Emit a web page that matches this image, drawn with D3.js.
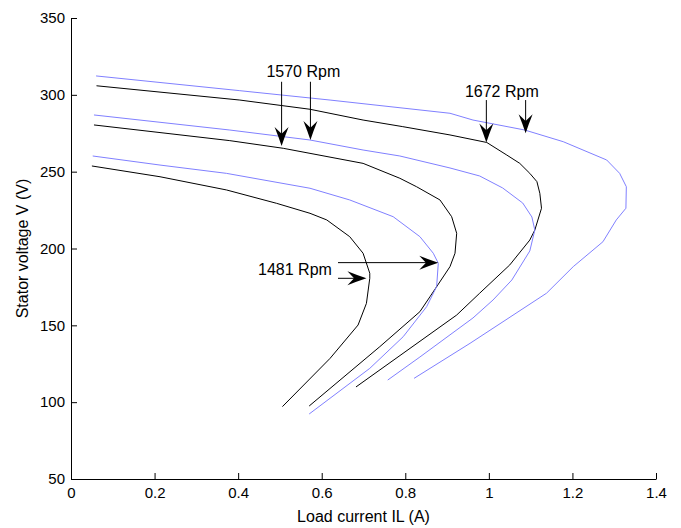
<!DOCTYPE html>
<html>
<head>
<meta charset="utf-8">
<script src="https://cdn.jsdelivr.net/npm/d3@7/dist/d3.min.js"></script>
<style>
  body { margin: 0; background: #fff; }
  svg { display: block; font-family: "Liberation Sans", Arial, sans-serif; }
  .axis path, .axis line { stroke: #000; }
  .axis text { font-size: 15px; fill: #000; }
</style>
</head>
<body>
<svg id="canvas" width="681" height="528"></svg>
<script>
"use strict";

// tick labels
const xTicks = [0, 0.2, 0.4, 0.6, 0.8, 1, 1.2, 1.4];
const yTicks = [50, 100, 150, 200, 250, 300, 350];

// black curves (load current, stator voltage)
const curBlack1481 = [0.05, 0.213, 0.372, 0.492, 0.572, 0.612, 0.667, 0.699, 0.715, 0.715, 0.707, 0.687, 0.62, 0.506];
const voltBlack1481 = [253.7, 246.7, 238.1, 229.4, 222.9, 218.6, 207.7, 196.9, 183.9, 180.6, 164.3, 150.2, 128.5, 97.1];

const curBlack1570 = [0.055, 0.38, 0.508, 0.699, 0.787, 0.827, 0.883, 0.911, 0.923, 0.919, 0.907, 0.859, 0.835, 0.739, 0.57];
const voltBlack1570 = [280.4, 270.2, 265.2, 255.4, 245.7, 240.2, 231.6, 220.7, 209.9, 196.9, 188.2, 168.6, 158.9, 136.1, 97.5];

const curBlack1672 = [0.061, 0.404, 0.572, 0.699, 0.794, 0.907, 0.995, 1.043, 1.074, 1.098, 1.115, 1.122, 1.126, 1.11, 1.098, 1.05, 0.978, 0.923, 0.682];
const voltBlack1672 = [305.9, 296.6, 290.6, 283.6, 279.3, 273.9, 269.0, 260.8, 255.4, 248.9, 243.5, 235.9, 226.2, 212.0, 205.5, 189.3, 170.9, 156.7, 109.9];

// blue curves
const curBlue1481 = [0.052, 0.213, 0.372, 0.572, 0.667, 0.771, 0.835, 0.867, 0.879, 0.875, 0.851, 0.795, 0.715, 0.57];
const voltBlue1481 = [260.2, 254.3, 248.9, 239.2, 231.6, 220.7, 207.7, 196.9, 190.4, 175.2, 162.1, 142.6, 122.0, 92.3];

const curBlue1570 = [0.055, 0.38, 0.572, 0.699, 0.787, 0.907, 0.978, 1.033, 1.081, 1.103, 1.11, 1.098, 1.055, 1.01, 0.962, 0.835, 0.758];
const voltBlue1570 = [286.9, 277.1, 270.6, 264.1, 260.2, 252.4, 247.2, 239.4, 229.6, 220.5, 212.0, 198.4, 179.5, 166.5, 154.8, 129.4, 114.4];

const curBlue1672 = [0.06, 0.404, 0.62, 0.907, 0.962, 1.086, 1.178, 1.282, 1.313, 1.329, 1.328, 1.305, 1.273, 1.202, 1.138, 0.955, 0.821];
const voltBlue1672 = [312.3, 302.7, 296.6, 288.0, 283.6, 277.1, 269.5, 257.6, 248.9, 240.2, 226.2, 218.6, 204.4, 188.2, 170.9, 138.3, 115.5];

// annotation labels and arrows (data units)
const labelText = ["1570 Rpm", "1672 Rpm", "1481 Rpm"];
const labelX = [0.556, 1.031, 0.536];
const labelY = [311.8, 298.8, 182.8];
const arrowFrom = [[0.504, 308.5], [0.573, 308.5], [0.994, 296.6], [1.088, 296.6], [0.639, 190.8], [0.639, 180.6]];
const arrowTo = [[0.504, 266.7], [0.573, 270.6], [0.994, 268.9], [1.088, 275.0], [0.879, 190.8], [0.707, 180.6]];

const series = [
  { x: curBlack1481, y: voltBlack1481, color: "#000" },
  { x: curBlack1570, y: voltBlack1570, color: "#000" },
  { x: curBlack1672, y: voltBlack1672, color: "#000" },
  { x: curBlue1481, y: voltBlue1481, color: "#8080ff" },
  { x: curBlue1570, y: voltBlue1570, color: "#8080ff" },
  { x: curBlue1672, y: voltBlue1672, color: "#8080ff" }
];

const margin = { left: 71, right: 25, top: 18, bottom: 49 };
const width = 681, height = 528;

const xScale = d3.scaleLinear().domain([0, 1.4]).range([margin.left, width - margin.right]);
const yScale = d3.scaleLinear().domain([50, 350]).range([height - margin.bottom, margin.top]);

const svg = d3.select("#canvas");

svg.append("g")
  .attr("class", "axis")
  .attr("transform", `translate(0,${height - margin.bottom})`)
  .call(d3.axisBottom(xScale).tickValues(xTicks).tickFormat(d => String(d))
    .tickSizeInner(-6).tickSizeOuter(0).tickPadding(8));

svg.append("g")
  .attr("class", "axis")
  .attr("transform", `translate(${margin.left},0)`)
  .call(d3.axisLeft(yScale).tickValues(yTicks).tickFormat(d => String(d))
    .tickSizeInner(-6).tickSizeOuter(0).tickPadding(6));

const line = d3.line().x(d => xScale(d[0])).y(d => yScale(d[1]));

svg.append("g")
  .selectAll("path")
  .data(series)
  .enter()
  .append("path")
  .attr("d", s => line(s.x.map((v, i) => [v, s.y[i]])))
  .attr("fill", "none")
  .attr("stroke", s => s.color)
  .attr("stroke-width", 1);

// arrows
const headLen = 19, headW = 14;
const arrows = arrowFrom.map((f, i) => ({ from: f, to: arrowTo[i] }));
const ag = svg.append("g");
arrows.forEach(a => {
  const x1 = xScale(a.from[0]), y1 = yScale(a.from[1]);
  const x2 = xScale(a.to[0]), y2 = yScale(a.to[1]);
  const ang = Math.atan2(y2 - y1, x2 - x1) * 180 / Math.PI;
  const len = Math.hypot(x2 - x1, y2 - y1);
  const g = ag.append("g").attr("transform", `translate(${x1},${y1}) rotate(${ang})`);
  g.append("line")
    .attr("x1", 0).attr("y1", 0)
    .attr("x2", len - headLen * 0.6).attr("y2", 0)
    .attr("stroke", "#000").attr("stroke-width", 1);
  const L = headLen, W = headW / 2;
  g.append("path")
    .attr("transform", `translate(${len},0)`)
    .attr("d", `M0,0 Q${-L * 0.5},${-W * 0.45} ${-L},${-W} L${-L * 0.65},0 L${-L},${W} Q${-L * 0.5},${W * 0.45} 0,0 Z`)
    .attr("fill", "#000");
});

svg.append("g")
  .selectAll("text")
  .data(labelText)
  .enter()
  .append("text")
  .attr("x", (d, i) => xScale(labelX[i]))
  .attr("y", (d, i) => yScale(labelY[i]))
  .attr("text-anchor", "middle")
  .attr("font-size", 16)
  .text(d => d);

svg.append("text")
  .attr("x", (xScale(0) + xScale(1.4)) / 2)
  .attr("y", 522)
  .attr("text-anchor", "middle")
  .attr("font-size", 16)
  .text("Load current IL (A)");

svg.append("text")
  .attr("transform", `translate(28,${(yScale(50) + yScale(350)) / 2}) rotate(-90)`)
  .attr("text-anchor", "middle")
  .attr("font-size", 16)
  .text("Stator voltage V (V)");
</script>
</body>
</html>
